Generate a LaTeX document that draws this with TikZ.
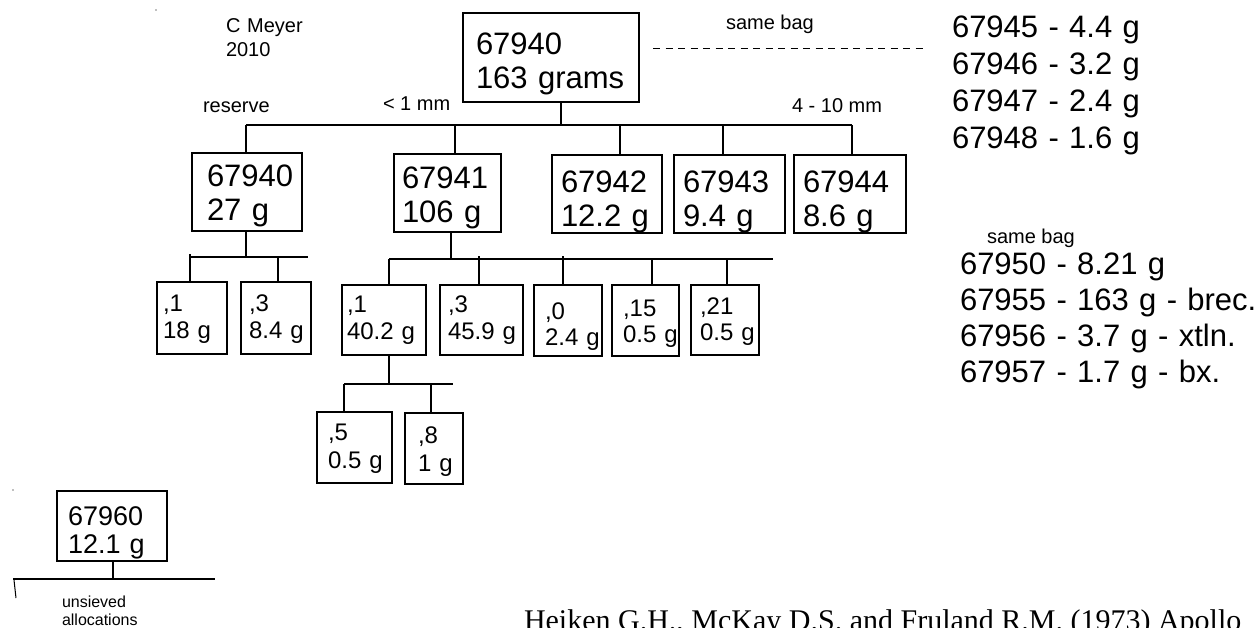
\documentclass[tikz,border=0pt]{standalone}
\usepackage{fontspec}
\setmainfont{Liberation Sans}
\newfontfamily\citefont{Liberation Serif}
\newcommand\szTop{\fontsize{31}{34}\selectfont}
\newcommand\szRow{\fontsize{31}{34}\selectfont}
\newcommand\szSmA{\fontsize{24}{27}\selectfont}
\newcommand\szSmB{\fontsize{24}{26}\selectfont}
\newcommand\szSmC{\fontsize{24}{28}\selectfont}
\newcommand\szU{\fontsize{27}{28}\selectfont}
\newcommand\szListA{\fontsize{31}{37}\selectfont}
\newcommand\szListB{\fontsize{31}{36}\selectfont}
\newcommand\szLab{\fontsize{20}{24}\selectfont}
\newcommand\szTiny{\fontsize{16}{18}\selectfont}
\tikzset{
  box/.style={draw, rectangle, line width=1.2pt, inner ysep=0pt, outer sep=0pt, align=left, anchor=base west},
  mtxt/.style={inner sep=0pt, outer sep=0pt, anchor=base west, align=left},
  lbl/.style={inner sep=0pt, outer sep=0pt, anchor=base west},
  conn/.style={line width=1.2pt},
  bagdash/.style={line width=1pt, dash pattern=on 7pt off 5.5pt}
}
\begin{document}
\begin{tikzpicture}[x=1pt,y=-1pt]
\useasboundingbox (0,0) rectangle (1257,627);
\clip (0,0) rectangle (1257,627);

% ---- boxes ----
\node[box, font=\szTop, inner xsep=13pt, text width=150pt, text height=41pt, text depth=48pt] (top) at (463,54) {67940\\163~grams};

\node[box, font=\szRow, inner xsep=15pt, text width=80pt, text height=33pt, text depth=45pt] (r40) at (192,186) {67940\\27~g};
\node[box, font=\szRow, inner xsep=8pt, text width=91pt, text height=34pt, text depth=44pt] (r41) at (394,188) {67941\\106~g};
\node[box, font=\szRow, inner xsep=9pt, text width=92pt, text height=37pt, text depth=41pt] (r42) at (552,192) {67942\\12.2~g};
\node[box, font=\szRow, inner xsep=9pt, text width=93pt, text height=37pt, text depth=41pt] (r43) at (674,192) {67943\\9.4~g};
\node[box, font=\szRow, inner xsep=9pt, text width=94pt, text height=37pt, text depth=41pt] (r44) at (794,192) {67944\\8.6~g};

\node[box, font=\szSmA, inner xsep=6pt, text width=58pt, text height=29pt, text depth=43pt] (a1) at (157,311) {,1\\18~g};
\node[box, font=\szSmA, inner xsep=8pt, text width=54pt, text height=29pt, text depth=43pt] (a3) at (241,311) {,3\\8.4~g};

\node[box, font=\szSmA, inner xsep=5pt, text width=74pt, text height=27pt, text depth=43pt] (b1) at (342,312) {,1\\40.2~g};
\node[box, font=\szSmA, inner xsep=8pt, text width=67pt, text height=27pt, text depth=43pt] (b3) at (440,312) {,3\\45.9~g};
\node[box, font=\szSmB, inner xsep=11pt, text width=46pt, text height=34pt, text depth=37pt] (b0) at (534,319) {,0\\2.4~g};
\node[box, font=\szSmB, inner xsep=11pt, text width=45pt, text height=31pt, text depth=40pt] (b15) at (612,316) {,15\\0.5~g};
\node[box, font=\szSmB, inner xsep=9pt, text width=50pt, text height=29pt, text depth=41pt] (b21) at (691,314) {,21\\0.5~g};

\node[box, font=\szSmC, inner xsep=11pt, text width=53pt, text height=28pt, text depth=43pt] (c5) at (317,440) {,5\\0.5~g};
\node[box, font=\szSmC, inner xsep=13pt, text width=32pt, text height=30pt, text depth=41pt] (c8) at (405,443) {,8\\1~g};

\node[box, font=\szU, inner xsep=11pt, text width=88pt, text height=34pt, text depth=36pt] (u) at (57,525) {67960\\12.1~g};

% ---- connectors ----
\coordinate (bar1L) at (246,125);
\coordinate (bar1R) at (852,125);
\draw[conn] (bar1L) -- (bar1R);
\draw[conn] ([xshift=10pt]top.south) -- ([xshift=10pt]top.south |- bar1L);
\draw[conn] ([xshift=-1pt]r40.north) -- ([xshift=-1pt]r40.north |- bar1L);
\draw[conn] ([xshift=7.5pt]r41.north) -- ([xshift=7.5pt]r41.north |- bar1L);
\draw[conn] ([xshift=13pt]r42.north) -- ([xshift=13pt]r42.north |- bar1L);
\draw[conn] ([xshift=-6.5pt]r43.north) -- ([xshift=-6.5pt]r43.north |- bar1L);
\draw[conn] ([xshift=2pt]r44.north) -- ([xshift=2pt]r44.north |- bar1L);

\coordinate (bar2L) at (190,257);
\coordinate (bar2R) at (308,257);
\draw[conn] (bar2L) -- (bar2R);
\draw[conn] ([xshift=-1pt]r40.south) -- ([xshift=-1pt]r40.south |- bar2L);
\draw[conn] ([xshift=-2pt]a1.north) -- ([xshift=-2pt,yshift=3pt]a1.north |- bar2L);
\draw[conn] ([xshift=2pt]a3.north) -- ([xshift=2pt]a3.north |- bar2L);

\coordinate (bar3L) at (389,259);
\coordinate (bar3R) at (773,259);
\draw[conn] (bar3L) -- (bar3R);
\draw[conn] ([xshift=3.5pt]r41.south) -- ([xshift=3.5pt]r41.south |- bar3L);
\draw[conn] ([xshift=5pt]b1.north) -- ([xshift=5pt]b1.north |- bar3L);
\draw[conn] ([xshift=-2.5pt]b3.north) -- ([xshift=-2.5pt,yshift=3pt]b3.north |- bar3L);
\draw[conn] ([xshift=-5pt]b0.north) -- ([xshift=-5pt,yshift=3pt]b0.north |- bar3L);
\draw[conn] ([xshift=6.5pt]b15.north) -- ([xshift=6.5pt]b15.north |- bar3L);
\draw[conn] ([xshift=2pt]b21.north) -- ([xshift=2pt]b21.north |- bar3L);

\coordinate (bar4L) at (344,384);
\coordinate (bar4R) at (453,384);
\draw[conn] (bar4L) -- (bar4R);
\draw[conn] ([xshift=5pt]b1.south) -- ([xshift=5pt]b1.south |- bar4L);
\draw[conn] ([xshift=-10.5pt]c5.north) -- ([xshift=-10.5pt]c5.north |- bar4L);
\draw[conn] ([xshift=-3pt]c8.north) -- ([xshift=-3pt]c8.north |- bar4L);

\coordinate (bar5L) at (13,579);
\coordinate (bar5R) at (215,579);
\draw[conn] (bar5L) -- (bar5R);
\draw[conn] ([xshift=1pt]u.south) -- ([xshift=1pt]u.south |- bar5L);
\coordinate (tickA) at (14,580);
\coordinate (tickB) at (16,598);
\draw[line width=1pt] (tickA) -- (tickB);

\coordinate (dashA) at (653,48);
\coordinate (dashB) at (927,48);
\draw[bagdash] (dashA) -- (dashB);

% stray specks
\fill[gray] (156,10) circle (0.8pt);
\fill[gray] (13,490) circle (0.8pt);

% ---- labels ----
\node[mtxt, font=\szLab, text width=100pt] (author) at (226,32) {C Meyer\\2010};
\node[lbl, font=\szLab] (reserve) at (203,112) {reserve};
\node[lbl, font=\szLab] (fine) at (383,110) {< 1 mm};
\node[lbl, font=\szLab] (coarse) at (792,112) {4 - 10 mm};
\node[lbl, font=\szLab] (bagA) at (726,29) {same bag};
\node[lbl, font=\szLab] (bagB) at (987,243) {same bag};
\node[mtxt, font=\szTiny, text width=120pt] (unsieved) at (62,607) {unsieved\\allocations};

\node[mtxt, font=\szListA, text width=300pt] (listA) at (952,37) {67945 - 4.4 g\\67946 - 3.2 g\\67947 - 2.4 g\\67948 - 1.6 g};
\node[mtxt, font=\szListB, text width=300pt] (listB) at (960,274) {67950 - 8.21 g\\67955 - 163 g - brec.\\67956 - 3.7 g - xtln.\\67957 - 1.7 g - bx.};

\node[lbl, font={\citefont\fontsize{30}{32}\selectfont}] (cite) at (524,630) {Heiken G.H., McKay D.S. and Fruland R.M. (1973) Apollo};
\end{tikzpicture}
\end{document}
